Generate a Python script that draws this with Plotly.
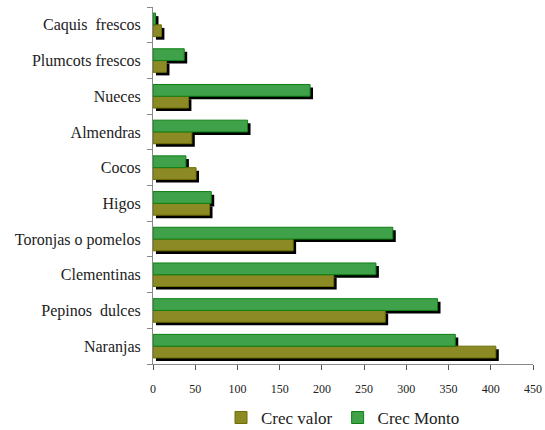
import plotly.graph_objects as go

categories = ["Naranjas", "Pepinos  dulces", "Clementinas", "Toronjas o pomelos", "Higos",
              "Cocos", "Almendras", "Nueces", "Plumcots frescos", "Caquis  frescos"]
crec_valor = [406, 275, 214, 166, 67, 51, 46, 42, 16, 10]
crec_monto = [358, 337, 264, 284, 69, 39, 112, 186, 37, 3]
x_ticks = [0, 50, 100, 150, 200, 250, 300, 350, 400, 450]

W = 0.33          # bar thickness (category units)
DX = 3.5          # shadow shift along x (data units ~3px)
DY = 0.086        # shadow shift along y (category units ~3px)

fig = go.Figure()

for vals, off in [(crec_valor, -W), (crec_monto, 0.0)]:
    fig.add_trace(go.Bar(
        y=categories, x=vals, base=[DX] * len(vals), orientation="h",
        width=W, offset=off - DY, marker=dict(color="black", line=dict(width=0)),
        showlegend=False, hoverinfo="skip"))

fig.add_trace(go.Bar(
    y=categories, x=crec_valor, orientation="h", name="Crec valor",
    width=W, offset=-W,
    marker=dict(color="#8c8a24", line=dict(color="#6f6d05", width=1))))
fig.add_trace(go.Bar(
    y=categories, x=crec_monto, orientation="h", name="Crec Monto",
    width=W, offset=0.0,
    marker=dict(color="#3fa24a", line=dict(color="#0e7f12", width=1))))

fig.update_layout(
    width=545, height=430,
    barmode="overlay",
    paper_bgcolor="white", plot_bgcolor="white",
    margin=dict(l=153, r=12, t=7, b=66),
    font=dict(family="Liberation Serif", color="#222222"),
    legend=dict(orientation="h", x=0.5, xanchor="center",
                yref="container", y=0.028, yanchor="middle",
                font=dict(size=17), traceorder="normal", itemwidth=30),
    xaxis=dict(range=[0, 450], tickvals=x_ticks, ticks="outside", ticklen=5,
               tickcolor="#555555", showline=True, linecolor="#888888",
               showgrid=False, zeroline=False, tickfont=dict(size=12),
               ticklabelstandoff=9, automargin=False),
    yaxis=dict(categoryorder="array", categoryarray=categories, ticks="outside",
               tickson="boundaries", ticklen=5, tickcolor="#888888",
               showline=True, linecolor="#888888", showgrid=False,
               tickfont=dict(size=16), ticklabelstandoff=8, automargin=False),
)

fig.write_html("out.html", config={"displayModeBar": False},
               post_script="document.body.style.margin='0';document.body.style.overflow='hidden';")
